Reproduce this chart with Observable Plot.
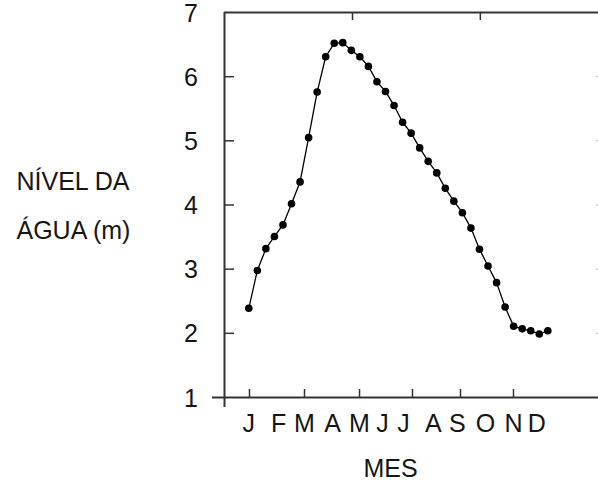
<!DOCTYPE html>
<html><head><meta charset="utf-8">
<script src="https://cdn.jsdelivr.net/npm/d3@7"></script>
<script src="https://cdn.jsdelivr.net/npm/@observablehq/plot@0.6"></script>
<style>body{margin:0;background:#fff} svg{display:block}</style>
</head><body><div id="chart"></div>
<script>
// ten-day periods through the year (3 per month)
const periods = [0,1,2,3,4,5,6,7,8,9,10,11,12,13,14,15,16,17,18,19,20,21,22,23,24,25,26,27,28,29,30,31,32,33,34,35];
const levels = [2.39,2.98,3.32,3.51,3.69,4.02,4.36,5.05,5.76,6.31,6.52,6.53,6.41,6.31,6.16,5.92,5.77,5.55,5.29,5.12,4.89,4.68,4.50,4.26,4.06,3.88,3.64,3.31,3.05,2.79,2.41,2.11,2.07,2.04,1.99,2.04];
const monthLabels = ["J","F","M","A","M","J","J","A","S","O","N","D"];
const monthPos = [0,3.48,6.52,9.8,12.96,15.65,18.1,21.6,24.4,27.7,30.98,33.7];
const bottomTicks = [0.08,6.52,12.96,19.16,24.78,30.98];
const topTicks = [12.14,27.1];
const yTicks = [1,2,3,4,5,6,7];
const innerYTicks = [2,3,4,5,6];
const xDomain = [-2.844,40.93];
const yDomain = [1,7];
const yTitle = ["NÍVEL DA","ÁGUA (m)"];
const xTitle = "MES";

const data = periods.map((p,i)=>({p, v: levels[i]}));
const ax = "#333";
const txt = "#161616";
const fs = 25;
const font = "Liberation Sans, Arial, sans-serif";

const chart = Plot.plot({
  width: 598, height: 492,
  marginLeft: 224, marginRight: 0, marginTop: 12, marginBottom: 95,
  x: {domain: xDomain, axis: null},
  y: {domain: yDomain, axis: null},
  style: {fontFamily: font, background: "#fff", color: txt},
  marks: [
    Plot.ruleY([yDomain[1]], {stroke: ax, strokeWidth: 2}),
    Plot.ruleY([yDomain[0]], {stroke: ax, strokeWidth: 2, insetLeft: -12}),
    Plot.ruleX([xDomain[0]], {stroke: ax, strokeWidth: 2, insetBottom: -10}),
    Plot.tickY(innerYTicks, {y: d=>d, stroke: ax, strokeWidth: 1.5, insetRight: 364}),
    Plot.tickY(innerYTicks, {y: d=>d, stroke: "#bbb", strokeWidth: 1, insetLeft: 372}),
    Plot.tickX(bottomTicks, {x: d=>d, stroke: ax, strokeWidth: 1.5, insetTop: 377}),
    Plot.tickX(topTicks, {x: d=>d, stroke: ax, strokeWidth: 1.5, insetBottom: 377}),
    Plot.line(data, {x: "p", y: "v", stroke: "#000", strokeWidth: 1.3}),
    Plot.dot(data, {x: "p", y: "v", r: 3.8, fill: "#000", stroke: null}),
    Plot.text(yTicks, {x: xDomain[0], y: d=>d, text: d=>String(d), dx: -26.5, dy: 1, textAnchor: "end", fontSize: fs, fill: txt}),
    Plot.text(monthLabels, {x: (d,i)=>monthPos[i], y: yDomain[0], text: d=>d, dy: 26, fontSize: fs, fill: txt}),
    Plot.text([xTitle], {frameAnchor: "bottom", text: d=>d, dx: -21, dy: 79, fontSize: fs, fill: txt}),
    Plot.text([yTitle[0]], {frameAnchor: "left", text: d=>d, textAnchor: "start", dx: -208, dy: -23.5, fontSize: fs, fill: txt}),
    Plot.text([yTitle[1]], {frameAnchor: "left", text: d=>d, textAnchor: "start", dx: -208, dy: 25.5, fontSize: fs, fill: txt})
  ]
});
document.getElementById("chart").append(chart);
</script>
</body></html>
